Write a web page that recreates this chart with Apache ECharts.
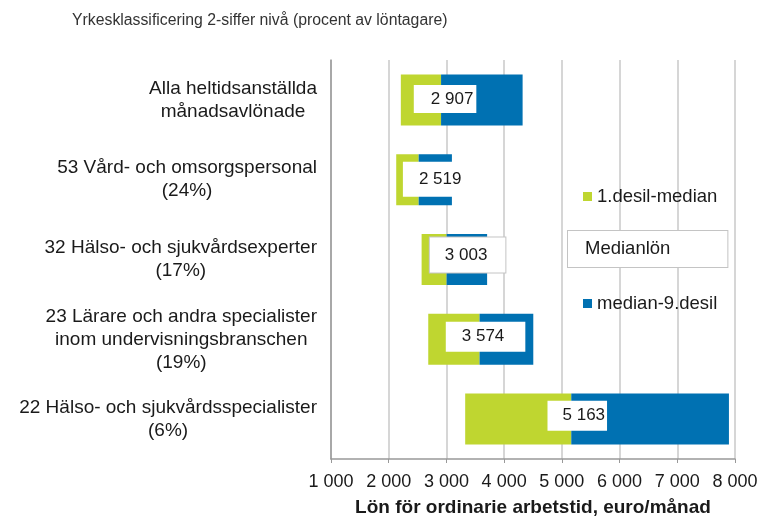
<!DOCTYPE html>
<html>
<head>
<meta charset="utf-8">
<script src="https://cdn.jsdelivr.net/npm/echarts@6/dist/echarts.min.js"></script>
<style>
  html, body { margin: 0; padding: 0; background: #fff; }
  #chart { width: 759px; height: 517px; }
</style>
</head>
<body>
<div id="chart"></div>
<script>
// Yrkesgrupper (uppifrån och ned)
const categories = [
  'Alla heltidsanställda\nmånadsavlönade',
  '53 Vård- och omsorgspersonal\n(24%)',
  '32 Hälso- och sjukvårdsexperter\n(17%)',
  '23 Lärare och andra specialister\ninom undervisningsbranschen\n(19%)',
  '22 Hälso- och sjukvårdsspecialister\n(6%)'
];
// euro/månad
const decile1 = [2210, 2130, 2570, 2685, 3325];
const median = [2907, 2519, 3003, 3574, 5163];
const decile9 = [4320, 3095, 3705, 4505, 7895];
const xTicks = [1000, 2000, 3000, 4000, 5000, 6000, 7000, 8000];

const GREEN = '#bfd630';
const BLUE = '#0071b2';
const TEXT = '#1a1a1a';
const FONT = 'Liberation Sans, Arial, sans-serif';

const fmt = v => String(v).replace(/\B(?=(\d{3})+(?!\d))/g, ' ');

const chart = echarts.init(document.getElementById('chart'));

// etikettboxarna ligger lite olika i originalet
const boxStyle = [
  { offset: [4, -1], padding: [10, 3, 1, 17] },
  { offset: [16, -0.5], padding: [11, 5, 7, 16] },
  { offset: [21, -4.5], padding: [9, 18, 9, 15], borderColor: '#c4c4c4', borderWidth: 1 },
  { offset: [6, -2.6], padding: [11, 21, 2, 16] },
  { offset: [6, -3.4], padding: [11, 2, 2, 15] }
];

const option = {
  animation: false,
  textStyle: { fontFamily: FONT },
  title: {
    text: 'Yrkesklassificering 2-siffer nivå (procent av löntagare)',
    left: 67, top: 8,
    textStyle: { fontSize: 15.8, fontWeight: 'normal', color: '#333', fontFamily: FONT }
  },
  grid: { left: 331, right: 24, top: 60, bottom: 58, outerBoundsMode: 'none' },
  legend: [
    {
      data: [{ name: '1.desil-median', icon: 'rect' }],
      left: 578, top: 182, itemWidth: 9, itemHeight: 9,
      textStyle: { fontSize: 18.5, color: TEXT }
    },
    {
      data: [{ name: 'Medianlön', icon: 'none' }],
      left: 558, top: 225, itemWidth: 0, itemHeight: 0,
      textStyle: {
        fontSize: 18.5, lineHeight: 20, color: TEXT, backgroundColor: '#fff',
        borderColor: '#c4c4c4', borderWidth: 1, padding: [8, 57, 8, 17]
      }
    },
    {
      data: [{ name: 'median-9.desil', icon: 'rect' }],
      left: 578, top: 289, itemWidth: 9, itemHeight: 9,
      textStyle: { fontSize: 18.5, color: TEXT }
    }
  ],
  xAxis: {
    type: 'value',
    min: xTicks[0], max: xTicks[xTicks.length - 1], interval: 1000,
    name: 'Lön för ordinarie arbetstid, euro/månad',
    nameLocation: 'middle', nameGap: 39,
    nameTextStyle: { fontSize: 19, fontWeight: 'bold', color: TEXT },
    axisLine: { show: true, lineStyle: { color: '#999', width: 1.5 } },
    axisTick: { show: true, length: 4, lineStyle: { color: '#999' } },
    axisLabel: { formatter: fmt, fontSize: 18, color: TEXT, margin: 14 },
    splitLine: { show: true, lineStyle: { color: '#c8c8c8', width: 1.5 } }
  },
  yAxis: {
    type: 'category',
    data: categories,
    inverse: true,
    axisLine: { show: true, lineStyle: { color: '#999', width: 1.5 } },
    axisTick: { show: false },
    axisLabel: {
      margin: 14, fontSize: 19, color: TEXT, lineHeight: 23,
      formatter: v => v.split('\n').map(s => '{c|' + s + '}').join('\n'),
      rich: { c: { align: 'center', fontSize: 19, lineHeight: 23, color: TEXT, fontFamily: FONT } }
    }
  },
  series: [
    {
      name: 'base', type: 'bar', stack: 'lon', barWidth: 51,
      itemStyle: { color: 'transparent' },
      silent: true,
      data: decile1
    },
    {
      name: '1.desil-median', type: 'bar', stack: 'lon', barWidth: 51,
      itemStyle: { color: GREEN },
      data: median.map((m, i) => m - decile1[i])
    },
    {
      name: 'median-9.desil', type: 'bar', stack: 'lon', barWidth: 51,
      itemStyle: { color: BLUE },
      data: decile9.map((d, i) => d - median[i])
    },
    {
      name: 'Medianlön', type: 'scatter', symbolSize: 0,
      itemStyle: { color: '#fff', opacity: 1 },
      z: 5,
      data: median.map((m, i) => ({
        value: [m, i],
        label: Object.assign({
          show: true, position: 'inside', formatter: fmt(m),
          fontSize: 17, lineHeight: 17, color: TEXT, backgroundColor: '#fff'
        }, boxStyle[i])
      }))
    }
  ]
};

chart.setOption(option);
</script>
</body>
</html>
